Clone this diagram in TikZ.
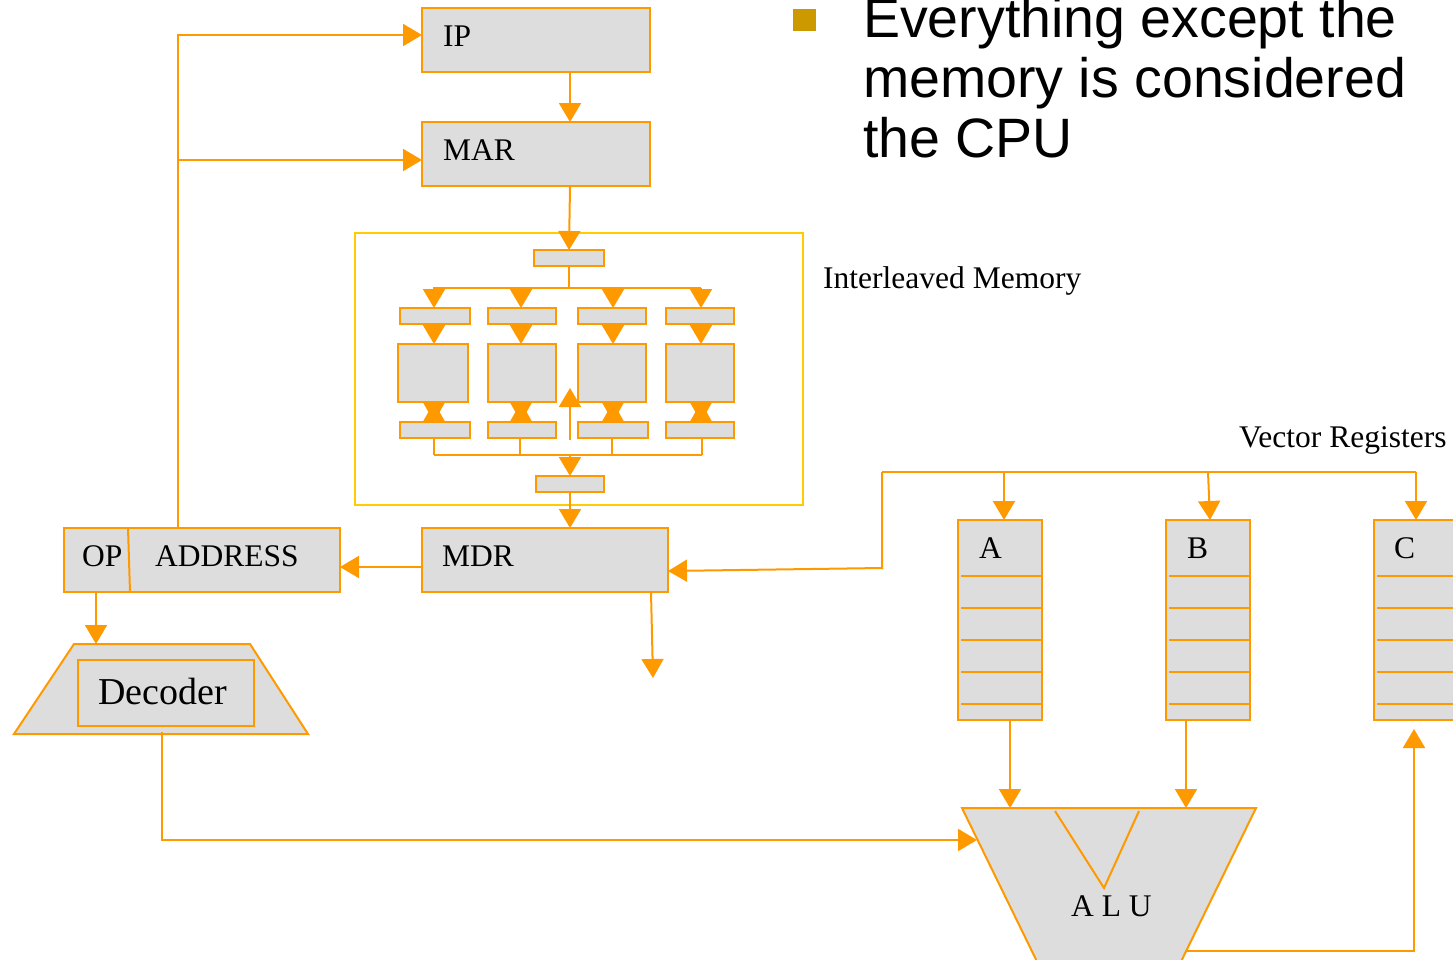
\documentclass[tikz,border=0pt]{standalone}
\usepackage{fontspec}
\setmainfont{Liberation Serif}
\newfontfamily\arialfont{Liberation Sans}
\usetikzlibrary{arrows.meta}
\definecolor{org}{RGB}{255,153,0}
\definecolor{boxgray}{RGB}{221,221,221}
\definecolor{frameyel}{RGB}{255,204,0}
\definecolor{bulletc}{RGB}{204,153,0}
\tikzset{
  box/.style={draw=org, fill=boxgray, line width=2pt, inner sep=0pt, outer sep=0pt, anchor=north west},
  lbl/.style={anchor=base west, inner sep=0pt, font=\fontsize{31.5}{37}\selectfont},
  wire/.style={draw=org, line width=2pt},
  arr/.style={wire, -{Triangle[length=19pt,width=22pt]}},
  darr/.style={wire, {Triangle[length=20pt,width=22pt]}-{Triangle[length=20pt,width=22pt]}},
  regline/.style={draw=org, line width=2pt},
}
\begin{document}
\begin{tikzpicture}[x=1pt,y=-1pt]
\useasboundingbox (0,0) rectangle (1453,959);
\clip (0,0) rectangle (1453,959);

% bullet text
\fill[bulletc] (793,9) rectangle (816,31);
\node[anchor=base west, inner sep=0pt, font=\arialfont\fontsize{55.5}{60}\selectfont] (t1) at (863,37) {Everything except the};
\node[anchor=base west, inner sep=0pt, font=\arialfont\fontsize{55.5}{60}\selectfont] (t2) at (863,97) {memory is considered};
\node[anchor=base west, inner sep=0pt, font=\arialfont\fontsize{55.5}{60}\selectfont] (t3) at (863,157) {the CPU};

% main registers
\node[box, minimum width=228, minimum height=64] (ip) at (422,8) {};
\node[lbl] at (443,46) {IP};
\node[box, minimum width=228, minimum height=64] (mar) at (422,122) {};
\node[lbl] at (443,160) {MAR};
\node[box, minimum width=246, minimum height=64] (mdr) at (422,528) {};
\node[lbl] at (442,566) {MDR};
\node[box, minimum width=276, minimum height=64] (instr) at (64,528) {};
\draw[regline] (128,528) -- (130,592);
\node[lbl] at (82,566) {OP};
\node[lbl] at (155,566) {ADDRESS};

% interleaved memory
\node[draw=frameyel, line width=2pt, inner sep=0pt, anchor=north west, minimum width=448, minimum height=272] (frame) at (354,232) {};
\node[lbl] at (823,288) {Interleaved Memory};
\node[box, minimum width=70, minimum height=16] (mtop) at (534,250) {};
\node[box, minimum width=68, minimum height=16] (mbot) at (536,476) {};

\node[box, minimum width=70, minimum height=16] (r1) at (400,308) {};
\node[box, minimum width=68, minimum height=16] (r2) at (488,308) {};
\node[box, minimum width=68, minimum height=16] (r3) at (578,308) {};
\node[box, minimum width=68, minimum height=16] (r4) at (666,308) {};

\node[box, minimum width=70, minimum height=58] (b1) at (398,344) {};
\node[box, minimum width=68, minimum height=58] (b2) at (488,344) {};
\node[box, minimum width=68, minimum height=58] (b3) at (578,344) {};
\node[box, minimum width=68, minimum height=58] (b4) at (666,344) {};

\node[box, minimum width=70, minimum height=16] (s1) at (400,422) {};
\node[box, minimum width=68, minimum height=16] (s2) at (488,422) {};
\node[box, minimum width=70, minimum height=16] (s3) at (578,422) {};
\node[box, minimum width=68, minimum height=16] (s4) at (666,422) {};

\coordinate (busT) at (0,288);
\coordinate (busB) at (0,455);
\draw[wire] (mtop.south) -- (mtop.south |- busT);
\draw[wire] (433,288) -- (701,288);
\foreach \i/\x in {1/434,2/521,3/613,4/701}{
  \draw[arr] (\x,288) -- (\x,308);
  \draw[arr] (\x,324) -- (\x,344);
  \draw[darr] (\x,402) -- (\x,422);
}
\foreach \i/\x in {1/434,2/520,3/612,4/702}{
  \draw[wire] (\x,438) -- (\x,455);
}
\draw[wire] (434,455) -- (702,455);
\draw[arr] (570,455) -- (mbot.north);
\draw[arr] (570,440) -- (570,388);

% top connections
\draw[arr] (570,72) -- (570,122);
\draw[arr] (570,186) -- (mtop.north);
\draw[arr] (mbot.south) -- (mbot.south |- mdr.north);

\coordinate (ipin) at (422,35);
\coordinate (marin) at (422,160);
\coordinate (fbx) at (178,0);
\draw[arr] (instr.north -| fbx) |- (ipin);
\draw[arr] (fbx |- marin) -- (marin);

\draw[arr] (422,567) -- (340,567);

% decoder
\draw[draw=org, fill=boxgray, line width=2pt] (74,644) -- (250,644) -- (308,734) -- (14,734) -- cycle;
\node[box, minimum width=176, minimum height=66] (dec) at (78,660) {};
\node[anchor=base west, inner sep=0pt, font=\fontsize{38}{44}\selectfont] at (98,704) {Decoder};
\draw[arr] (96,592) -- (96,644);

% MDR out
\coordinate (mdrout) at (653,678);
\draw[arr] (651,592) -- (mdrout);

% vector registers
\node[lbl] at (1239,447) {Vector Registers};
\node[box, minimum width=84, minimum height=200] (A) at (958,520) {};
\node[box, minimum width=84, minimum height=200] (B) at (1166,520) {};
\node[box, minimum width=110, minimum height=200] (C) at (1374,520) {};
\foreach \y in {576,608,640,672,704}{
  \draw[regline] (961,\y) -- (1042,\y);
  \draw[regline] (1169,\y) -- (1250,\y);
  \draw[regline] (1377,\y) -- (1470,\y);
}
\node[lbl] at (979,558) {A};
\node[lbl] at (1187,558) {B};
\node[lbl] at (1394,558) {C};

\draw[wire] (882,472) -- (1416,472);
\draw[arr] (882,472) -- (882,568) -- (668,571);
\draw[arr] (1004,472) -- (1004,520);
\draw[arr] (1208,472) -- (1210,520);
\draw[arr] (1416,472) -- (1416,520);

% ALU
\draw[draw=org, fill=boxgray, line width=2pt] (962,808) -- (1256,808) -- (1172,980) -- (1046,980) -- cycle;
\draw[wire] (1055,811) -- (1104,888) -- (1139,811);
\node[lbl] at (1071,916) {A L U};
\draw[arr] (1010,720) -- (1010,808);
\draw[arr] (1186,720) -- (1186,808);
\draw[arr] (162,732) |- (977,840);
\draw[arr] (1187,951) -| (1414,729);
\end{tikzpicture}
\end{document}
